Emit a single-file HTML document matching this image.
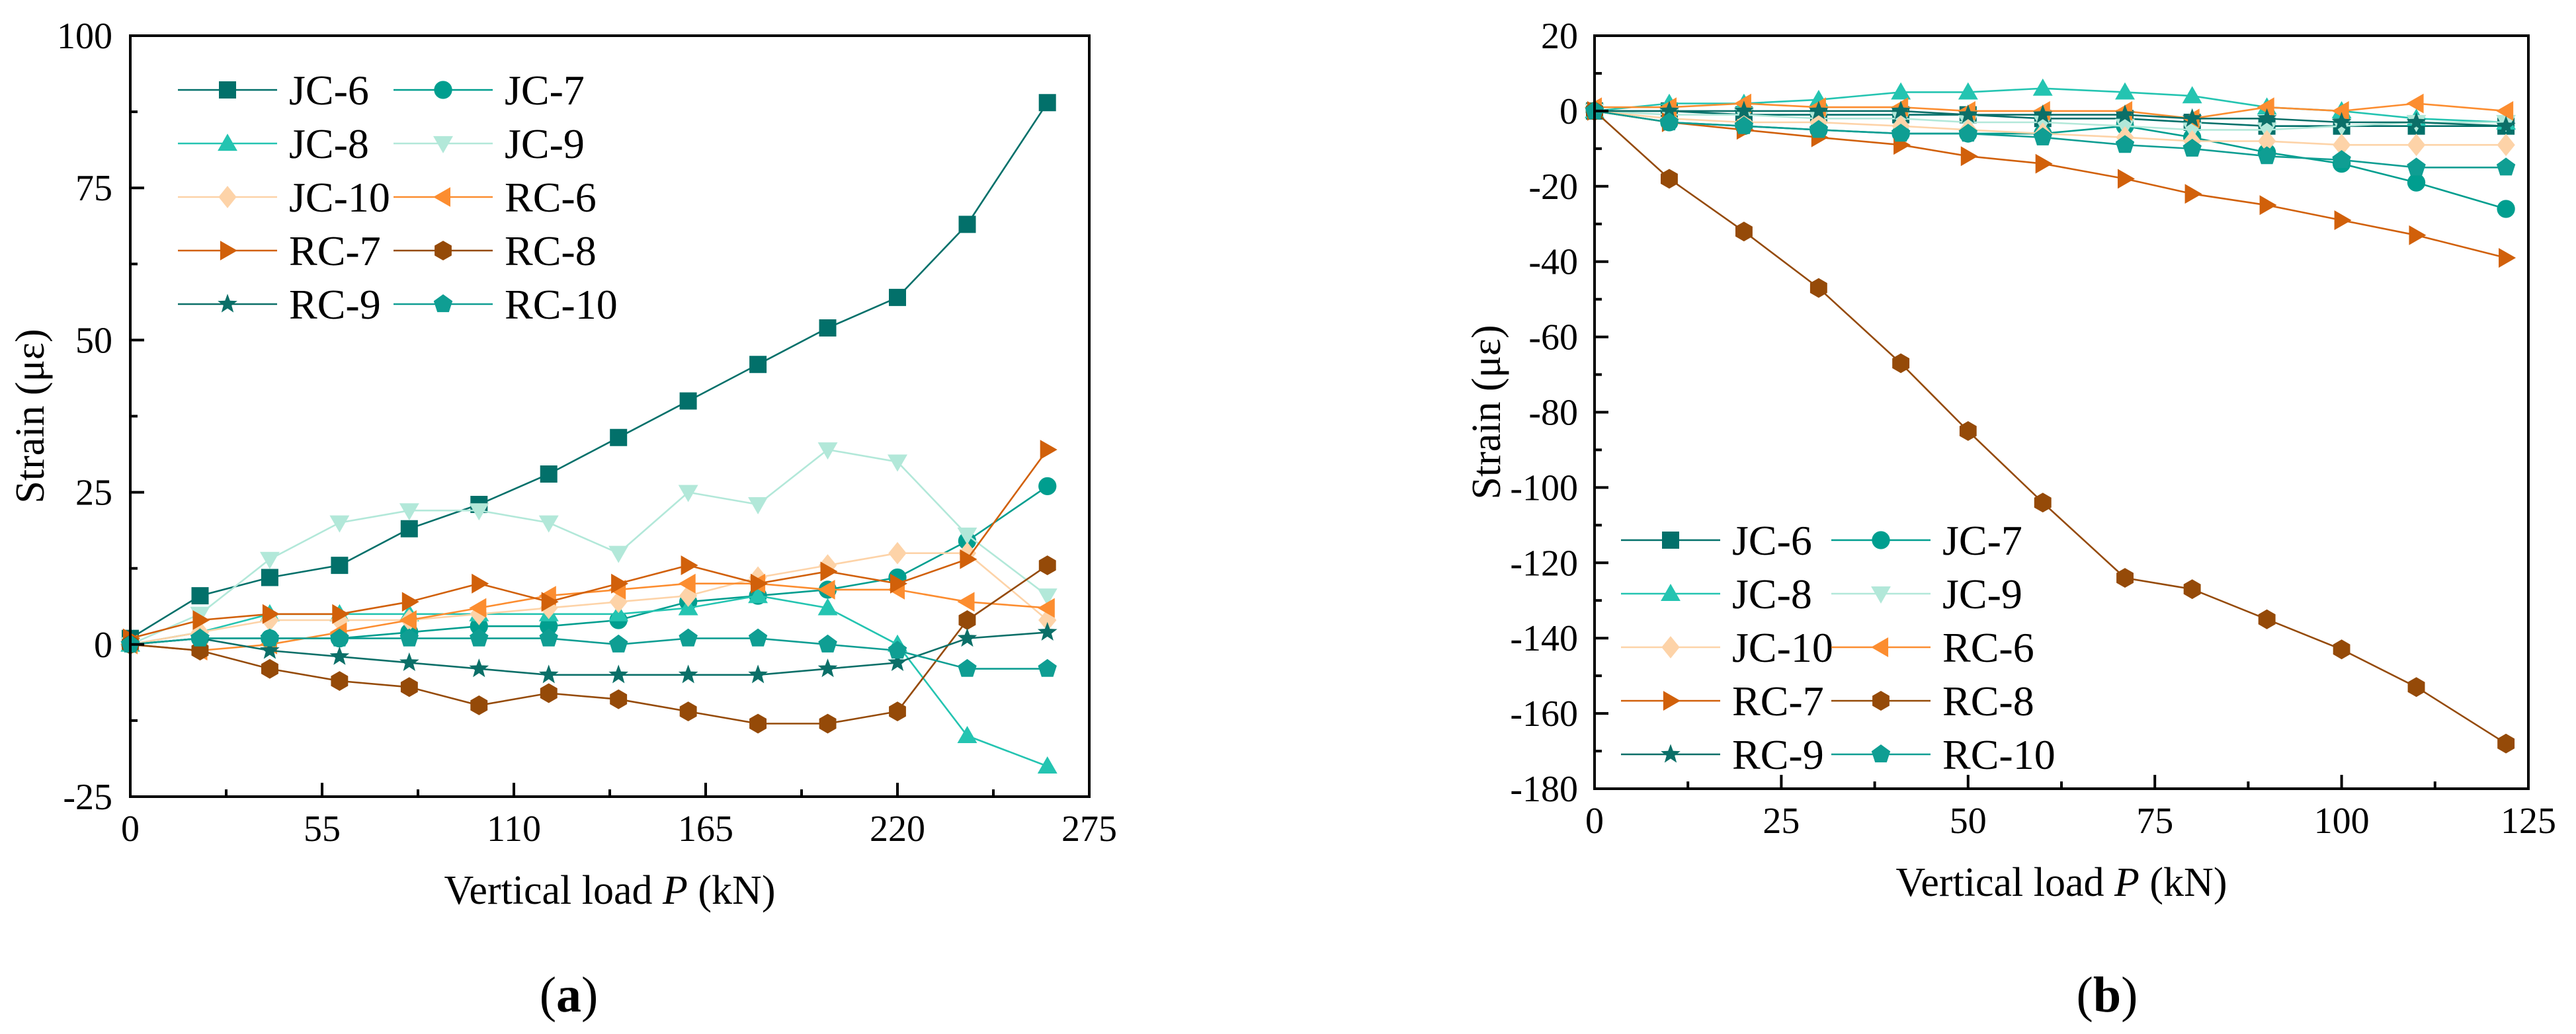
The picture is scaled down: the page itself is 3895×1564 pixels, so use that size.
<!DOCTYPE html>
<html><head><meta charset="utf-8">
<style>
html,body{margin:0;padding:0;background:#fff;font-family:"Liberation Serif","Times New Roman","DejaVu Serif",serif;}
svg{display:block;}
text{font-family:"Liberation Serif","Times New Roman","DejaVu Serif",serif;}
</style></head>
<body>
<svg id="fig" width="3895" height="1564" viewBox="0 0 3895 1564" xmlns="http://www.w3.org/2000/svg">
<rect width="3895" height="1564" fill="#fff"/>
</svg>
<script>
// ---- shared series metadata ----
const seriesNames = ["JC-6","JC-7","JC-8","JC-9","JC-10","RC-6","RC-7","RC-8","RC-9","RC-10"];
const seriesColors = ["#02706a","#009e8f","#24c4b1","#b2e8d9","#fdd3a8","#fc8d30","#d1600a","#954a08","#0b6f68","#0f9e93"];
const seriesMarkers = ["square","circle","tri-up","tri-down","diamond","tri-left","tri-right","hexagon","star","pentagon"];

// ---- chart (a) data ----
const loadA = [0,20,40,60,80,100,120,140,160,180,200,220,240,263];
const jc6A  = [1,8,11,13,19,23,28,34,40,46,52,57,69,89];
const jc7A  = [0,1,1,1,2,3,3,4,7,8,9,11,17,26];
const jc8A  = [0,2,5,5,5,5,5,5,6,8,6,0,-15,-20];
const jc9A  = [0,5,14,20,22,22,20,15,25,23,32,30,18,8];
const jc10A = [0,2,4,4,4,5,6,7,8,11,13,15,15,4];
const rc6A  = [0,-1,0,2,4,6,8,9,10,10,9,9,7,6];
const rc7A  = [1,4,5,5,7,10,7,10,13,10,12,10,14,32];
const rc8A  = [0,-1,-4,-6,-7,-10,-8,-9,-11,-13,-13,-11,4,13];
const rc9A  = [0,1,-1,-2,-3,-4,-5,-5,-5,-5,-4,-3,1,2];
const rc10A = [0,1,1,1,1,1,1,0,1,1,0,-1,-4,-4];
const xTicksA = [0,55,110,165,220,275];
const yTicksA = [-25,0,25,50,75,100];

// ---- chart (b) data ----
const loadB = [0,10,20,30,41,50,60,71,80,90,100,110,122];
const jc6B  = [0,0,-1,-1,-1,-1,-2,-2,-3,-4,-4,-4,-4];
const jc7B  = [0,-3,-4,-5,-6,-6,-6,-4,-7,-11,-14,-19,-26];
const jc8B  = [0,2,2,3,5,5,6,5,4,1,0,-2,-3];
const jc9B  = [0,-1,-1,-2,-2,-3,-3,-4,-5,-5,-4,-3,-3];
const jc10B = [0,-2,-3,-3,-4,-5,-6,-7,-8,-8,-9,-9,-9];
const rc6B  = [1,1,2,1,1,0,0,0,-2,1,0,2,0];
const rc7B  = [0,-3,-5,-7,-9,-12,-14,-18,-22,-25,-29,-33,-39];
const rc8B  = [0,-18,-32,-47,-67,-85,-104,-124,-127,-135,-143,-153,-168];
const rc9B  = [0,0,0,0,0,-1,-1,-1,-2,-2,-3,-3,-4];
const rc10B = [0,-3,-4,-5,-6,-6,-7,-9,-10,-12,-13,-15,-15];
const xTicksB = [0,25,50,75,100,125];
const yTicksB = [-180,-160,-140,-120,-100,-80,-60,-40,-20,0,20];

const NS = "http://www.w3.org/2000/svg";
const svg = document.getElementById("fig");
function mk(tag, attrs, parent){
  const e = document.createElementNS(NS, tag);
  for (const k in attrs) e.setAttribute(k, attrs[k]);
  if (tag === "text") e.style.fontFamily = '"Liberation Serif", "Times New Roman", "DejaVu Serif", serif';
  (parent||svg).appendChild(e);
  return e;
}
function markerPath(type, cx, cy, s){
  const r = s/2;
  const poly = pts => "M" + pts.map(p => (cx+p[0]).toFixed(1)+","+(cy+p[1]).toFixed(1)).join("L") + "Z";
  const reg = (n, rad, rot) => { const a=[]; for(let i=0;i<n;i++){const t=rot+i*2*Math.PI/n; a.push([rad*Math.cos(t), rad*Math.sin(t)]);} return a; };
  switch(type){
    case "square": return poly([[-r,-r],[r,-r],[r,r],[-r,r]]);
    case "circle": return "M"+(cx-r*1.05)+","+cy+"a"+r*1.05+","+r*1.05+" 0 1,0 "+2*r*1.05+",0a"+r*1.05+","+r*1.05+" 0 1,0 "+(-2*r*1.05)+",0Z";
    case "tri-up": return poly([[0,-r*1.15],[r*1.15,r*0.85],[-r*1.15,r*0.85]]);
    case "tri-down": return poly([[0,r*1.15],[r*1.15,-r*0.85],[-r*1.15,-r*0.85]]);
    case "tri-left": return poly([[-r*1.15,0],[r*0.85,-r*1.15],[r*0.85,r*1.15]]);
    case "tri-right": return poly([[r*1.15,0],[-r*0.85,-r*1.15],[-r*0.85,r*1.15]]);
    case "diamond": return poly([[0,-r*1.3],[r*1.05,0],[0,r*1.3],[-r*1.05,0]]);
    case "hexagon": return poly(reg(6, r*1.15, -Math.PI/2));
    case "pentagon": return poly(reg(5, r*1.15, -Math.PI/2));
    case "star": { const a=[]; for(let i=0;i<10;i++){const t=-Math.PI/2+i*Math.PI/5; const rr=i%2?r*0.5:r*1.2; a.push([rr*Math.cos(t), rr*Math.sin(t)]);} return poly(a); }
  }
}

function drawChart(cfg){
  const g = mk("g", {});
  
  
  const X = v => cfg.x0 + (v - cfg.xmin)/(cfg.xmax - cfg.xmin)*(cfg.x1 - cfg.x0);
  const Y = v => cfg.y1 - (v - cfg.ymin)/(cfg.ymax - cfg.ymin)*(cfg.y1 - cfg.y0);

  cfg.series.forEach((vals, i) => {
    const sg = mk("g", {}, g);
    
    
    const d = vals.map((v,j) => (j?"L":"M") + X(cfg.load[j]).toFixed(1) + "," + Y(v).toFixed(1)).join("");
    const ln = mk("path", {d:d, fill:"none", stroke:seriesColors[i], "stroke-width":2.6}, sg);
    
    
    vals.forEach((v,j) => {
      const m = mk("path", {d: markerPath(seriesMarkers[i], X(cfg.load[j]), Y(v), 26), fill: seriesColors[i]}, sg);
      
      
    });
  });

  const fr = mk("rect", {x:cfg.x0, y:cfg.y0, width:cfg.x1-cfg.x0, height:cfg.y1-cfg.y0, fill:"none", stroke:"#000", "stroke-width":4}, g);
  
  

  cfg.xTicks.forEach((t, k) => {
    const px = X(t);
    const tk = mk("line", {x1:px, x2:px, y1:cfg.y1, y2:cfg.y1-21, stroke:"#000", "stroke-width":4}, g);
    
    
    if (k < cfg.xTicks.length-1){
      const mx = X((t + cfg.xTicks[k+1])/2);
      const mt = mk("line", {x1:mx, x2:mx, y1:cfg.y1, y2:cfg.y1-11, stroke:"#000", "stroke-width":4}, g);
      
      
    }
    const lb = mk("text", {x:px, y:cfg.y1+67, "font-size":56, "text-anchor":"middle", fill:"#000"}, g);
    lb.textContent = t;
    
    
  });
  cfg.yTicks.forEach((t, k) => {
    const py = Y(t);
    const tk = mk("line", {x1:cfg.x0, x2:cfg.x0+21, y1:py, y2:py, stroke:"#000", "stroke-width":4}, g);
    
    
    if (k < cfg.yTicks.length-1){
      const my = Y((t + cfg.yTicks[k+1])/2);
      const mt = mk("line", {x1:cfg.x0, x2:cfg.x0+11, y1:my, y2:my, stroke:"#000", "stroke-width":4}, g);
      
      
    }
    const lb = mk("text", {x:cfg.yLabelX, y:py+19, "font-size":56, "text-anchor":"end", fill:"#000"}, g);
    lb.textContent = t;
    
    
  });

  const xt = mk("text", {x:(cfg.x0+cfg.x1)/2, y:cfg.y1+162, "font-size":62, "text-anchor":"middle", fill:"#000"}, g);
  xt.innerHTML = 'Vertical load <tspan font-style="italic">P</tspan> (kN)';
  
  
  const yt = mk("text", {x:0, y:0, "font-size":62, "text-anchor":"middle", fill:"#000", transform:"translate("+(cfg.yTitleX)+","+((cfg.y0+cfg.y1)/2)+") rotate(-90)"}, g);
  yt.textContent = "Strain (με)";
  
  

  const cp = mk("text", {x:cfg.capX, y:1530, "font-size":76, "text-anchor":"middle", fill:"#000"}, g);
  cp.innerHTML = '(<tspan font-weight="bold">' + cfg.cap + '</tspan>)';
  
  

  const lg = mk("g", {}, g);
  
  
  seriesNames.forEach((n, i) => {
    const col = i % 2, row = Math.floor(i/2);
    const lx0 = cfg.leg.cols[col], ly = cfg.leg.y0 + row*cfg.leg.dy;
    const eg = mk("g", {}, lg);
    
    
    mk("line", {x1:lx0, x2:lx0+150, y1:ly, y2:ly, stroke:seriesColors[i], "stroke-width":2.6}, eg);
    mk("path", {d: markerPath(seriesMarkers[i], lx0+75, ly, 26), fill: seriesColors[i]}, eg);
    const tx = mk("text", {x:lx0+168, y:ly+22, "font-size":64, fill:"#000"}, eg);
    tx.textContent = n;
  });
}

drawChart({
  name:"chart-a", x0:197, x1:1647, y0:54, y1:1205, xmin:0, xmax:275, ymin:-25, ymax:100,
  load:loadA, series:[jc6A,jc7A,jc8A,jc9A,jc10A,rc6A,rc7A,rc8A,rc9A,rc10A],
  xTicks:xTicksA, yTicks:yTicksA, yLabelX:170, yTitleX:66, capX:860, cap:"a",
  leg:{cols:[269,595], y0:136, dy:81}
});
drawChart({
  name:"chart-b", x0:2411, x1:3823, y0:54, y1:1193, xmin:0, xmax:125, ymin:-180, ymax:20,
  load:loadB, series:[jc6B,jc7B,jc8B,jc9B,jc10B,rc6B,rc7B,rc8B,rc9B,rc10B],
  xTicks:xTicksB, yTicks:yTicksB, yLabelX:2386, yTitleX:2268, capX:3186, cap:"b",
  leg:{cols:[2451,2769], y0:817, dy:81}
});
</script>
</body></html>
